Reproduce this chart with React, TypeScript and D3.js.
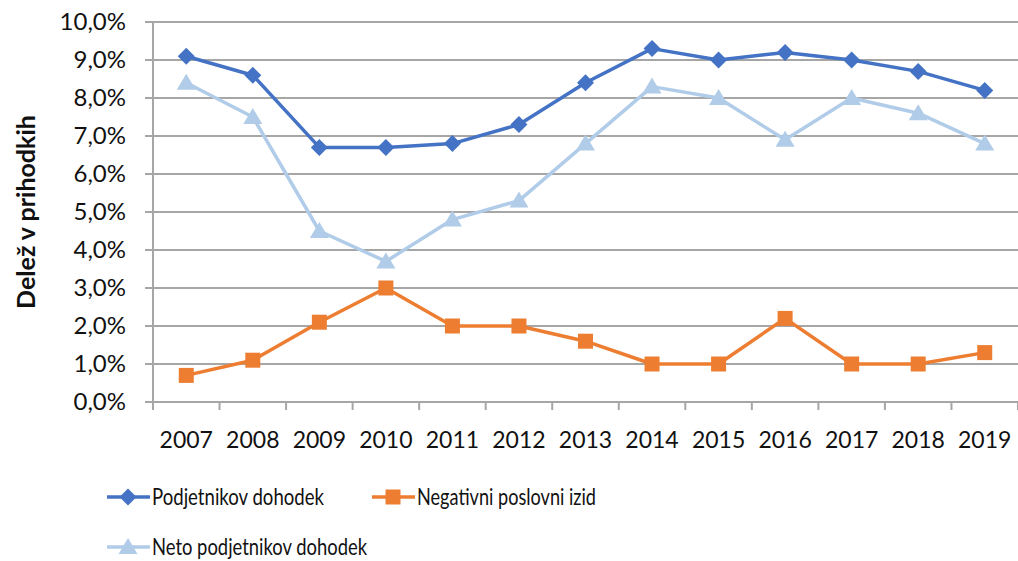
import React from 'react';
import * as d3 from 'd3';

const years = ['2007', '2008', '2009', '2010', '2011', '2012', '2013', '2014', '2015', '2016', '2017', '2018', '2019'];
const podjetnikov = [9.1, 8.6, 6.7, 6.7, 6.8, 7.3, 8.4, 9.3, 9.0, 9.2, 9.0, 8.7, 8.2];
const negativni = [0.7, 1.1, 2.1, 3.0, 2.0, 2.0, 1.6, 1.0, 1.0, 2.2, 1.0, 1.0, 1.3];
const neto = [8.4, 7.5, 4.5, 3.7, 4.8, 5.3, 6.8, 8.3, 8.0, 6.9, 8.0, 7.6, 6.8];
const yTicks = [0, 1, 2, 3, 4, 5, 6, 7, 8, 9, 10];

const series = [
  { name: 'Podjetnikov dohodek', values: podjetnikov, color: '#4472C4', marker: 'diamond', w: 172 },
  { name: 'Negativni poslovni izid', values: negativni, color: '#ED7D31', marker: 'square', w: 179 },
  { name: 'Neto podjetnikov dohodek', values: neto, color: '#B0CCE8', marker: 'triangle', w: 215 },
];

const FONT = 'Lato, "Open Sans", sans-serif';

// marker outlines, centred on 0,0
const markerPath = (type: string) => {
  const p = d3.path();
  if (type === 'diamond') {
    p.moveTo(0, -8.5); p.lineTo(8.5, 0); p.lineTo(0, 8.5); p.lineTo(-8.5, 0);
  } else if (type === 'square') {
    p.rect(-7.5, -7.5, 15, 15);
  } else {
    p.moveTo(0, -9); p.lineTo(9.5, 7); p.lineTo(-9.5, 7);
  }
  p.closePath();
  return p.toString();
};

export default function App() {
  const width = 1018;
  const height = 561;
  const left = 153;
  const right = 1018;
  const top = 22;
  const bottom = 402;

  const x = d3.scaleBand<string>().domain(years).range([left, right]);
  const y = d3.scaleLinear().domain([0, 10]).range([bottom, top]);
  const cx = (i: number) => (x(years[i]) as number) + x.bandwidth() / 2;

  const line = d3
    .line<number>()
    .x((_, i) => cx(i))
    .y(d => y(d));

  const fmt = (v: number) => v.toFixed(1).replace('.', ',') + '%';

  return (
    <svg width={width} height={height} style={{ position: 'absolute', left: 0, top: 0, background: '#fff' }}>
      {yTicks.map(t => (
        <g key={t}>
          <line x1={left - 8} x2={right} y1={y(t)} y2={y(t)} stroke="#a6a6a6" strokeWidth={2} />
          <text x={126} y={y(t) + 8} textAnchor="end" fontSize={24} fontFamily={FONT} fill="#111">
            {fmt(t)}
          </text>
        </g>
      ))}
      <line x1={left} x2={left} y1={top} y2={bottom + 8} stroke="#a6a6a6" strokeWidth={2} />
      {years.map((yr, i) => (
        <g key={yr}>
          <line
            x1={(x(yr) as number) + x.bandwidth()}
            x2={(x(yr) as number) + x.bandwidth()}
            y1={bottom}
            y2={bottom + 8}
            stroke="#a6a6a6"
            strokeWidth={2}
          />
          <text x={cx(i)} y={448} textAnchor="middle" fontSize={23} fontFamily={FONT} fill="#111">
            {yr}
          </text>
        </g>
      ))}
      <text
        transform={`translate(35,${(top + bottom) / 2}) rotate(-90)`}
        textAnchor="middle"
        fontSize={25}
        fontWeight="bold"
        fontFamily={FONT}
        fill="#111"
      >
        Delež v prihodkih
      </text>
      {[series[2], series[0], series[1]].map(s => (
        <g key={s.name}>
          <path d={line(s.values) as string} fill="none" stroke={s.color} strokeWidth={3.5} strokeLinejoin="round" />
          {s.values.map((v, i) => (
            <path key={i} d={markerPath(s.marker)} transform={`translate(${cx(i)},${y(v)})`} fill={s.color} />
          ))}
        </g>
      ))}
      {series.map((s, i) => {
        const lx = i === 1 ? 372 : 107;
        const ly = i === 2 ? 547 : 497;
        return (
          <g key={s.name}>
            <line x1={lx} x2={lx + 43} y1={ly} y2={ly} stroke={s.color} strokeWidth={3.5} />
            <path d={markerPath(s.marker)} transform={`translate(${lx + 21},${ly})`} fill={s.color} />
            <text
              x={lx + 45}
              y={ly + 8}
              fontSize={24}
              fontFamily={FONT}
              fill="#111"
              textLength={s.w}
              lengthAdjust="spacingAndGlyphs"
            >
              {s.name}
            </text>
          </g>
        );
      })}
    </svg>
  );
}
